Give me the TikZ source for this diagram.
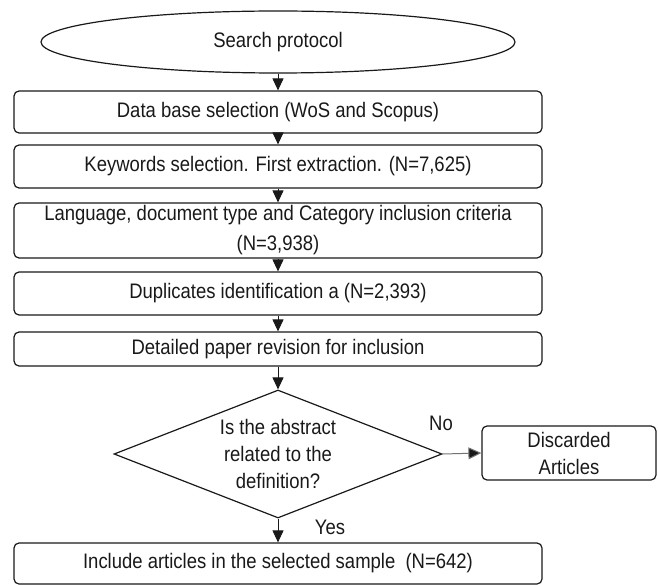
\documentclass[tikz,border=0pt]{standalone}
\usepackage{fontspec}
\setmainfont{Liberation Sans}[FakeStretch=0.88]
\usetikzlibrary{shapes.geometric,arrows.meta}
\tikzset{
  txt/.style={font=\fontsize{21pt}{27pt}\selectfont, text=black!90},
  box/.style={txt, draw=black!90, line width=1.2pt, rounded corners=5pt, inner sep=0pt, minimum width=528pt, align=center},
  arr/.style={draw=black!90, line width=1pt, -{Triangle[length=12pt,width=11pt]}},
  garr/.style={draw=black!55, line width=1pt, -{Triangle[length=13pt,width=12pt,fill=black!90]}},
  lbl/.style={txt, inner sep=0pt}
}
\begin{document}
\begin{tikzpicture}[x=1pt,y=-1pt]
\useasboundingbox (0,0) rectangle (658,585);
\node[ellipse, draw=black!90, line width=1.2pt, minimum width=474pt, minimum height=62pt, inner sep=0pt, txt] (ell) at (278,42) {Search protocol};
\node[box, minimum height=42pt] (b1) at (278,112) {Data base selection (WoS and Scopus)};
\node[box, minimum height=43pt] (b2) at (278,166.5) {Keywords selection. First extraction. (N=7,625)};
\node[box, minimum height=55pt] (b3) at (278,230.5) {Language, document type and Category inclusion criteria\\[3pt](N=3,938)};
\node[box, minimum height=43pt] (b4) at (278,293.5) {Duplicates identification a (N=2,393)};
\node[box, minimum height=34pt] (b5) at (278,349) {Detailed paper revision for inclusion};
\node[diamond, draw=black!90, line width=1.2pt, minimum width=328pt, minimum height=128pt, inner sep=0pt] (dec) at (278,454) {};
\node[lbl, align=center] (dectxt) at (dec.center) {Is the abstract\\related to the\\definition?};
\node[box, minimum width=174pt, minimum height=54pt] (disc) at (569,453) {Discarded\\Articles};
\node[box, minimum height=41pt] (fin) at (278,563.5) {Include articles in the selected sample\ \ (N=642)};
\draw[arr] (ell.south) -- (b1.north);
\draw[arr] (b1.south) -- (b2.north);
\draw[arr] (b2.south) -- (b3.north);
\draw[arr] (b3.south) -- (b4.north);
\draw[arr] (b4.south) -- (b5.north);
\draw[arr] (b5.south) -- (dec.north);
\draw[arr] (dec.south) -- (fin.north);
\draw[garr] (dec.east) -- (disc.west);
\node[lbl] (yes) at (330,527) {Yes};
\node[lbl] (no) at (441,423) {No};
\end{tikzpicture}
\end{document}
